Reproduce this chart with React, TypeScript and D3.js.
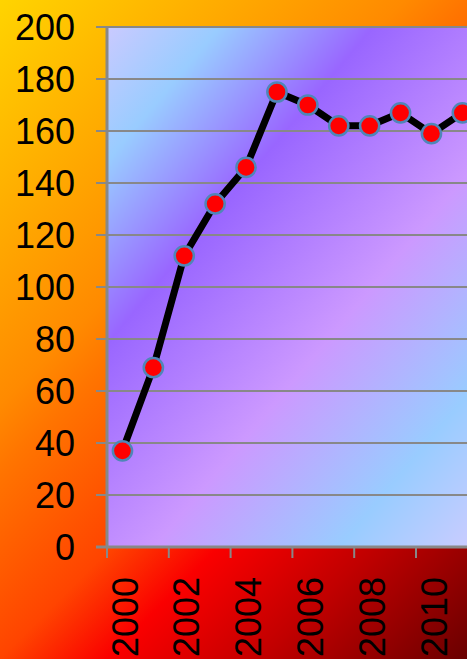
import React from "react";
import * as d3 from "d3";

const years = [2000, 2001, 2002, 2003, 2004, 2005, 2006, 2007, 2008, 2009, 2010, 2011];
const values = [37, 69, 112, 132, 146, 175, 170, 162, 162, 167, 159, 167];
const yTicks = [0, 20, 40, 60, 80, 100, 120, 140, 160, 180, 200];
const xLabelYears = [2000, 2002, 2004, 2006, 2008, 2010];

const W = 467;
const H = 659;
const PLOT_LEFT = 107;
const PLOT_TOP = 27;
const PLOT_BOTTOM = 547;
const BAND = 30.9;

export default function App() {
  const x = d3
    .scaleBand<number>()
    .domain(years)
    .range([PLOT_LEFT, PLOT_LEFT + years.length * BAND])
    .paddingInner(0)
    .paddingOuter(0);
  const y = d3.scaleLinear().domain([0, 200]).range([PLOT_BOTTOM, PLOT_TOP]);
  const plotRight = PLOT_LEFT + years.length * BAND;
  const cx = (yr: number) => (x(yr) as number) + x.bandwidth() / 2;

  const line = d3
    .line<number>()
    .x((_, i) => cx(years[i]))
    .y((d) => y(d));

  const font = "'Liberation Sans', Arial, Helvetica, sans-serif";

  return (
    <svg
      width={W}
      height={H}
      style={{ position: "absolute", left: 0, top: 0, display: "block" }}
    >
      <defs>
        <linearGradient id="bg" gradientUnits="userSpaceOnUse" x1={0} y1={0} x2={563} y2={563}>
          <stop offset="0" stopColor="#ffd400" />
          <stop offset="0.36" stopColor="#ff8a00" />
          <stop offset="0.42" stopColor="#ff7400" />
          <stop offset="0.585" stopColor="#ff4400" />
          <stop offset="0.68" stopColor="#fa0000" />
          <stop offset="0.82" stopColor="#c00000" />
          <stop offset="1" stopColor="#6a0000" />
        </linearGradient>
        <linearGradient id="plotbg" gradientUnits="userSpaceOnUse" x1={107} y1={27} x2={580} y2={424}>
          <stop offset="0" stopColor="#cacaff" />
          <stop offset="0.14" stopColor="#99ccff" />
          <stop offset="0.33" stopColor="#9966ff" />
          <stop offset="0.6" stopColor="#cc99ff" />
          <stop offset="0.83" stopColor="#99ccff" />
          <stop offset="1" stopColor="#ccccff" />
        </linearGradient>
      </defs>
      <rect x={0} y={0} width={W} height={H} fill="url(#bg)" />
      <rect
        x={PLOT_LEFT}
        y={PLOT_TOP}
        width={plotRight - PLOT_LEFT}
        height={PLOT_BOTTOM - PLOT_TOP}
        fill="url(#plotbg)"
      />
      {yTicks.map((t) => (
        <g key={t}>
          <line x1={96} x2={plotRight} y1={y(t)} y2={y(t)} stroke="#888888" strokeWidth={2} />
          <text
            x={75}
            y={y(t)}
            dy="0.36em"
            textAnchor="end"
            fontFamily={font}
            fontSize={36}
            fill="#000"
          >
            {t}
          </text>
        </g>
      ))}
      <line x1={PLOT_LEFT} x2={PLOT_LEFT} y1={PLOT_TOP - 1} y2={PLOT_BOTTOM + 1} stroke="#888888" strokeWidth={3} />
      <line x1={96} x2={plotRight} y1={PLOT_BOTTOM} y2={PLOT_BOTTOM} stroke="#888888" strokeWidth={3} />
      {years.map((yr, i) =>
        i % 2 === 0 ? (
          <line
            key={yr}
            x1={x(yr) as number}
            x2={x(yr) as number}
            y1={PLOT_BOTTOM}
            y2={PLOT_BOTTOM + 11}
            stroke="#888888"
            strokeWidth={2}
          />
        ) : null
      )}
      {xLabelYears.map((yr) => (
        <text
          key={yr}
          transform={`translate(${cx(yr) + 2.5},577) rotate(-90)`}
          dy="0.35em"
          textAnchor="end"
          fontFamily={font}
          fontSize={36}
          fill="#000"
        >
          {yr}
        </text>
      ))}
      <path d={line(values) || ""} fill="none" stroke="#000" strokeWidth={7} strokeLinejoin="round" />
      {values.map((v, i) => (
        <circle
          key={years[i]}
          cx={cx(years[i])}
          cy={y(v)}
          r={9.6}
          fill="#ff0000"
          stroke="#4f86b8"
          strokeWidth={2.5}
        />
      ))}
    </svg>
  );
}
